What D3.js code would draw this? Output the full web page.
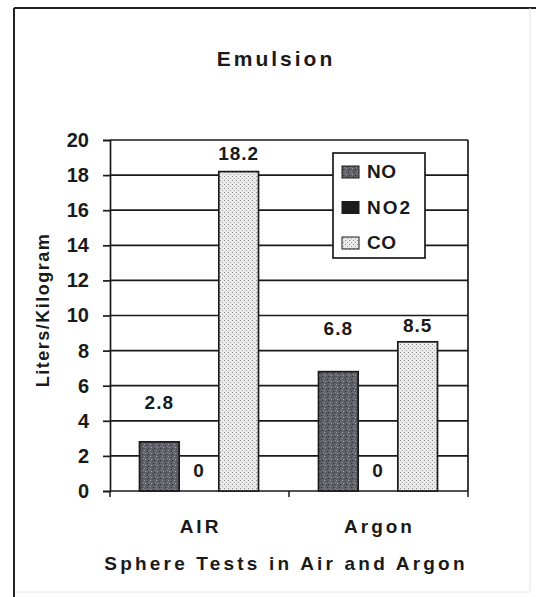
<!DOCTYPE html>
<html>
<head>
<meta charset="utf-8">
<script src="https://cdn.jsdelivr.net/npm/d3@7"></script>
<style>
  body { margin: 0; background: #fff; }
  text { font-family: "Liberation Sans", Arial, sans-serif; font-weight: bold; fill: #1a1a1a; }
</style>
</head>
<body>
<div class="chart"></div>
<script>
// chart values
const categories = ["AIR", "Argon"];
const series = ["NO", "NO2", "CO"];
const valuesNO = [2.8, 6.8];
const valuesNO2 = [0, 0];
const valuesCO = [18.2, 8.5];
const yTicks = [0, 2, 4, 6, 8, 10, 12, 14, 16, 18, 20];

const seriesValues = { NO: valuesNO, NO2: valuesNO2, CO: valuesCO };

const width = 536, height = 597;
const svg = d3.select('.chart').append('svg').attr('width', width).attr('height', height);

// textures like the scanned fills
let defs = svg.append('defs');
let pNO = defs.append('pattern').attr('id', 'pNO').attr('patternUnits', 'userSpaceOnUse')
    .attr('width', 6).attr('height', 6);
pNO.append('rect').attr('width', 6).attr('height', 6).attr('fill', '#606069');
[[0,0,'#9a9aa2'],[3,1,'#3a3a40'],[1,3,'#a4a4aa'],[4,4,'#33333a'],[5,2,'#8c8c94'],[2,5,'#44444a']]
    .forEach(s => pNO.append('rect').attr('x', s[0]).attr('y', s[1]).attr('width', 1).attr('height', 1).attr('fill', s[2]));
let pCO = defs.append('pattern').attr('id', 'pCO').attr('patternUnits', 'userSpaceOnUse')
    .attr('width', 4).attr('height', 4);
pCO.append('rect').attr('width', 4).attr('height', 4).attr('fill', '#eaeaea');
pCO.append('rect').attr('x', 0).attr('y', 0).attr('width', 1).attr('height', 1).attr('fill', '#8c8c8c');
pCO.append('rect').attr('x', 2).attr('y', 2).attr('width', 1).attr('height', 1).attr('fill', '#a4a4a4');

const fills = { NO: 'url(#pNO)', NO2: '#1c1c1c', CO: 'url(#pCO)' };

// outer frame
svg.append('line').attr('x1', 14).attr('x2', 536).attr('y1', 8).attr('y2', 8)
    .attr('stroke', '#222').attr('stroke-width', 2);
svg.append('line').attr('x1', 14).attr('x2', 14).attr('y1', 8).attr('y2', 597)
    .attr('stroke', '#222').attr('stroke-width', 2);
svg.append('line').attr('x1', 530).attr('x2', 530).attr('y1', 8).attr('y2', 592)
    .attr('stroke', '#e4e4e4').attr('stroke-width', 1);
svg.append('line').attr('x1', 15).attr('x2', 530).attr('y1', 592).attr('y2', 592)
    .attr('stroke', '#e4e4e4').attr('stroke-width', 1);

const plot = { left: 110, right: 468, top: 140, bottom: 491 };

let y = d3.scaleLinear().domain([0, 20]).range([plot.bottom, plot.top]);
let x = d3.scaleBand().domain(categories).range([plot.left, plot.right]);
let xs = d3.scaleBand().domain(series).range([29.5, 148.5]);

// gridlines
svg.append('g').selectAll('line').data(yTicks.filter(t => t > 0)).enter().append('line')
    .attr('x1', plot.left).attr('x2', plot.right)
    .attr('y1', d => y(d)).attr('y2', d => y(d))
    .attr('stroke', '#1a1a1a').attr('stroke-width', 1.7);
svg.append('line').attr('x1', plot.right).attr('x2', plot.right)
    .attr('y1', plot.top).attr('y2', plot.bottom)
    .attr('stroke', '#1a1a1a').attr('stroke-width', 1.7);

// y axis
let yAxis = svg.append('g').attr('transform', 'translate(' + plot.left + ',0)')
    .call(d3.axisLeft(y).tickValues(yTicks).tickSize(7).tickPadding(14).tickFormat(d3.format('d')));
yAxis.select('.domain').attr('stroke', '#1a1a1a').attr('stroke-width', 1.7);
yAxis.selectAll('.tick line').attr('stroke', '#1a1a1a').attr('stroke-width', 1.7);
yAxis.selectAll('.tick text').style('font-size', '20px').attr('fill', '#1a1a1a')
    .style('font-family', '"Liberation Sans", Arial, sans-serif').style('font-weight', 'bold');

// x axis
let xAxis = svg.append('g').attr('transform', 'translate(0,' + plot.bottom + ')');
xAxis.append('line').attr('x1', plot.left).attr('x2', plot.right)
    .attr('stroke', '#1a1a1a').attr('stroke-width', 1.7);
xAxis.selectAll('line.tk').data([plot.left, plot.left + x.bandwidth(), plot.right]).enter().append('line')
    .attr('class', 'tk').attr('x1', d => d).attr('x2', d => d).attr('y1', 0).attr('y2', 6)
    .attr('stroke', '#1a1a1a').attr('stroke-width', 1.5);
xAxis.selectAll('text').data(categories).enter().append('text')
    .attr('x', d => x(d) + x.bandwidth() / 2 + 1).attr('y', 42)
    .attr('text-anchor', 'middle').style('font-size', '19px').style('letter-spacing', '3px')
    .text(d => d);

// bars
let rows = [];
categories.forEach((c, i) => series.forEach(s => rows.push({ cat: c, ser: s, value: seriesValues[s][i] })));

svg.append('g').selectAll('rect').data(rows.filter(d => d.value > 0)).enter().append('rect')
    .attr('x', d => x(d.cat) + xs(d.ser))
    .attr('y', d => y(d.value))
    .attr('width', xs.bandwidth())
    .attr('height', d => y(0) - y(d.value))
    .attr('fill', d => fills[d.ser])
    .attr('stroke', '#1a1a1a').attr('stroke-width', 1.7);

// value labels (hand-nudged in the original)
const labelLift = { 'AIR-NO': 33, 'AIR-NO2': 14, 'AIR-CO': 12, 'Argon-NO': 37, 'Argon-NO2': 14, 'Argon-CO': 10 };
svg.append('g').selectAll('text').data(rows).enter().append('text')
    .attr('x', d => x(d.cat) + xs(d.ser) + xs.bandwidth() / 2)
    .attr('y', d => y(d.value) - labelLift[d.cat + '-' + d.ser])
    .attr('text-anchor', 'middle').style('font-size', '19px').style('letter-spacing', '1px')
    .text(d => d.value);

// legend
let legend = svg.append('g').attr('transform', 'translate(333,153)');
legend.append('rect').attr('width', 92).attr('height', 105)
    .attr('fill', '#fff').attr('stroke', '#1a1a1a').attr('stroke-width', 1.7);
let li = legend.selectAll('g').data(series).enter().append('g')
    .attr('transform', (d, i) => 'translate(0,' + (i * 35.5) + ')');
li.append('rect').attr('x', 9).attr('y', 13).attr('width', 17).attr('height', 12)
    .attr('fill', d => fills[d]).attr('stroke', '#1a1a1a').attr('stroke-width', 1);
li.append('text').attr('x', 34).attr('y', 25).style('font-size', '19px')
    .style('letter-spacing', d => d == 'NO2' ? '2px' : '0.5px').text(d => d);

// titles
svg.append('text').attr('x', 276).attr('y', 66).attr('text-anchor', 'middle')
    .style('font-size', '21px').style('letter-spacing', '3px').text('Emulsion');
svg.append('text').attr('x', 286).attr('y', 570).attr('text-anchor', 'middle')
    .style('font-size', '19px').style('letter-spacing', '3.2px').text('Sphere Tests in Air and Argon');
svg.append('text').attr('transform', 'translate(49,310) rotate(-90)').attr('text-anchor', 'middle')
    .style('font-size', '18px').style('letter-spacing', '1.5px').text('Liters/Kilogram');
</script>
</body>
</html>
